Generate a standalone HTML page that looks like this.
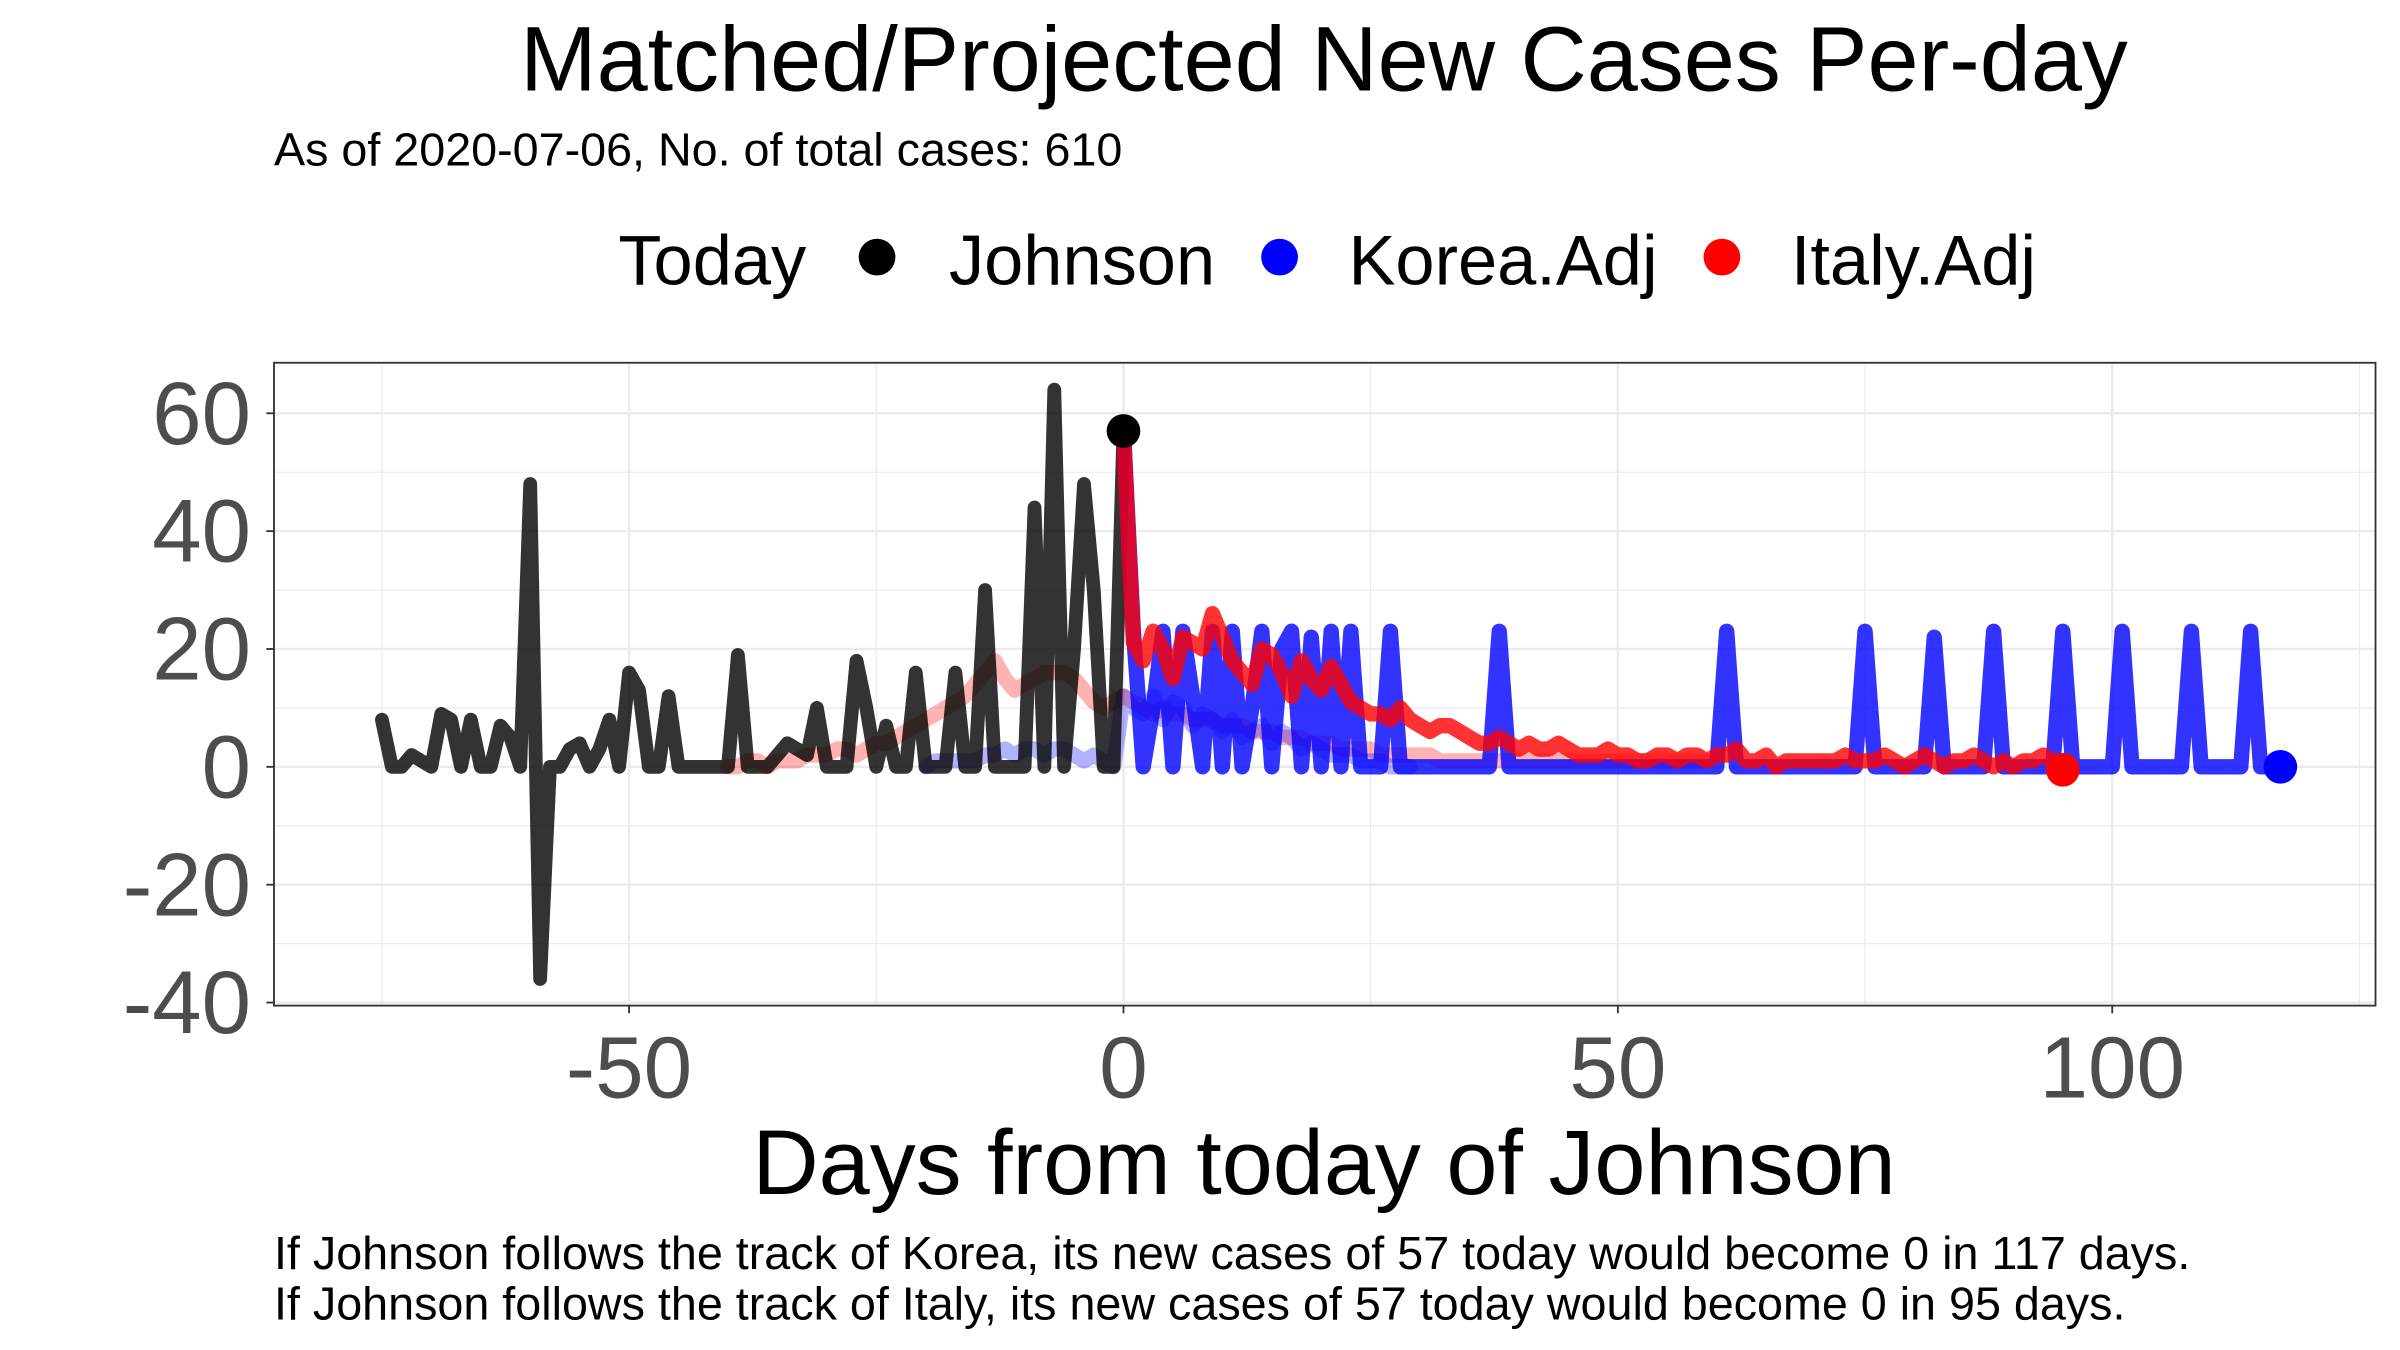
<!DOCTYPE html>
<html><head><meta charset="utf-8"><style>
html,body{margin:0;padding:0;background:#fff;}
svg{display:block;font-family:"Liberation Sans",Arial,sans-serif;}
</style></head><body>
<svg id="chart" width="2400" height="1350" viewBox="0 0 1568 882">
<text x="865" y="59" font-size="60" text-anchor="middle">Matched/Projected New Cases Per-day</text>
<text x="179" y="108" font-size="30.5">As of 2020-07-06, No. of total cases: 610</text>
<g>
<text x="404" y="186" font-size="46">Today</text>
<circle cx="573" cy="168" r="12" fill="#000"/>
<text x="620" y="186" font-size="46">Johnson</text>
<circle cx="836" cy="168" r="12" fill="#0000ff"/>
<text x="881" y="186" font-size="46">Korea.Adj</text>
<circle cx="1125" cy="168" r="12" fill="#ff0000"/>
<text x="1170" y="186" font-size="46">Italy.Adj</text>
</g>
<g id="grid"></g>
<g id="series"></g>
<rect x="179" y="237" width="1373" height="420" fill="none" stroke="#333" stroke-width="1.2"/>
<g id="axes"></g>
<text x="865" y="780" font-size="60" text-anchor="middle">Days from today of Johnson</text>
<text x="179" y="829" font-size="30.5">If Johnson follows the track of Korea, its new cases of 57 today would become 0 in 117 days.</text>
<text x="179" y="862" font-size="30.5">If Johnson follows the track of Italy, its new cases of 57 today would become 0 in 95 days.</text>
</svg>
<script>
const xTicks=[-50,0,50,100];
const xMinor=[-75,-25,25,75,125];
const yTicks=[-40,-20,0,20,40,60];
const yMinor=[-30,-10,10,30,50];
const johnsonStart=-75;
const johnson=[8,0,0,2,1,0,9,8,0,8,0,0,7,5,0,48,-36,0,0,3,4,0,3,8,0,16,13,0,0,12,0,0,0,0,0,0,19,0,0,0,2,4,3,2,10,0,0,0,18,10,0,7,0,0,16,0,0,0,16,0,0,30,0,0,0,0,44,0,64,0,20,48,30,0,0,57];
const koreaAdj=[57,23,0,10,23,0,23,12,0,23,0,23,0,10,23,0,20,23,0,22,0,23,0,23,0,0,0,23,0,0,0,0,0,0,0,0,0,0,23,0,0,0,0,0,0,0,0,0,0,0,0,0,0,0,0,0,0,0,0,0,0,23,0,0,0,0,0,0,0,0,0,0,0,0,0,23,0,0,0,0,0,0,22,0,0,0,0,0,23,0,0,0,0,0,0,23,0,0,0,0,0,23,0,0,0,0,0,0,23,0,0,0,0,0,23,0,0,0];
const italyAdj=[57,21,18,23,20,15,22,21,20,26,22,18,16,14,20,19,16,12,18,15,13,17,14,11,10,9,9,8,10,8,7,6,7,7,6,5,4,4,5,4,3,4,3,3,4,3,2,2,2,3,2,2,1,1,2,2,1,2,2,1,2,2,3,1,1,2,0,1,1,1,1,1,1,2,1,1,1,2,1,0,1,2,1,0,1,1,2,1,0,1,0,1,1,2,1,-0.5];
const italyRawStart=-40;
const italyRaw=[0,0,1,1,0,1,1,1,2,2,2,3,3,2,3,4,4,5,6,7,8,9,10,11,12,14,16,18,15,13,14,15,16,16,16,15,13,11,10,11,12,11,10,9,10,9,9,8,8,8,7,7,7,6,6,6,5,5,5,4,4,4,3,3,3,3,2,2,2,2,2,2,1,1,1,1,1,1,1,1,1,1,1,1,1,1,1,1,1,1,1,1,1,1,1,1,1,1,1,1];
const koreaRawStart=-20;
const koreaRaw=[0,1,1,1,1,1,2,2,3,2,3,3,2,3,3,2,1,2,1,0,12,10,9,12,8,11,10,7,9,8,6,8,5,6,7,4,6,5,3,4,3,2,2,2,1,1,1,0,0,0];
const todayPoint=[0,57];
const koreaEnd=[117,0];
const italyEnd=[95,-0.5];

const NS="http://www.w3.org/2000/svg";
const X=d=>734+d*6.46;
const Y=v=>501-v*3.85;
const L=179,R=1552,T=237,B=657;
function mk(t,a,p){const e=document.createElementNS(NS,t);for(const k in a)e.setAttribute(k,a[k]);p.appendChild(e);return e;}
const grid=document.getElementById('grid'),ser=document.getElementById('series'),axes=document.getElementById('axes');
for(const d of xMinor){const g=mk('line',{x1:X(d),x2:X(d),y1:T,y2:B,stroke:'#ebebeb','stroke-width':0.8},grid);

}
for(const v of yMinor){const g=mk('line',{x1:L,x2:R,y1:Y(v),y2:Y(v),stroke:'#ebebeb','stroke-width':0.8},grid);

}
for(const d of xTicks){const g=mk('line',{x1:X(d),x2:X(d),y1:T,y2:B,stroke:'#ebebeb','stroke-width':1.6},grid);


const t=mk('line',{x1:X(d),x2:X(d),y1:B,y2:B+5,stroke:'#333','stroke-width':1.2},axes);


const l=mk('text',{x:X(d),y:717,'font-size':57,'text-anchor':'middle',fill:'#4d4d4d'},axes);l.textContent=d;

}
for(const v of yTicks){const g=mk('line',{x1:L,x2:R,y1:Y(v),y2:Y(v),stroke:'#ebebeb','stroke-width':1.6},grid);


const t=mk('line',{x1:L-5,x2:L,y1:Y(v),y2:Y(v),stroke:'#333','stroke-width':1.2},axes);


const l=mk('text',{x:164,y:Y(v)+20,'font-size':58,'text-anchor':'end',fill:'#4d4d4d'},axes);l.textContent=v;

}
function path(start,vals,color,op,w,name){let d='';vals.forEach((v,i)=>{d+=(i?'L':'M')+X(start+i).toFixed(1)+','+Y(v).toFixed(1);});
const p=mk('path',{d:d,fill:'none',stroke:color,'stroke-opacity':op,'stroke-width':w,'stroke-linejoin':'round','stroke-linecap':'round'},ser);

}
path(italyRawStart,italyRaw,'#ff0000',0.3,10,'italy-original-line');
path(koreaRawStart,koreaRaw,'#0000ff',0.3,10,'korea-original-line');
path(johnsonStart,johnson,'#000000',0.8,9,'johnson-line');
path(0,koreaAdj,'#0000ff',0.8,10,'korea-adj-line');
path(0,italyAdj,'#ff0000',0.8,10,'italy-adj-line');
let c=mk('circle',{cx:X(todayPoint[0]),cy:Y(todayPoint[1]),r:11,fill:'#000'},ser);


c=mk('circle',{cx:X(koreaEnd[0]),cy:Y(koreaEnd[1]),r:11,fill:'#0000ff'},ser);


c=mk('circle',{cx:X(italyEnd[0]),cy:Y(italyEnd[1]),r:11,fill:'#ff0000'},ser);


</script>
</body></html>
